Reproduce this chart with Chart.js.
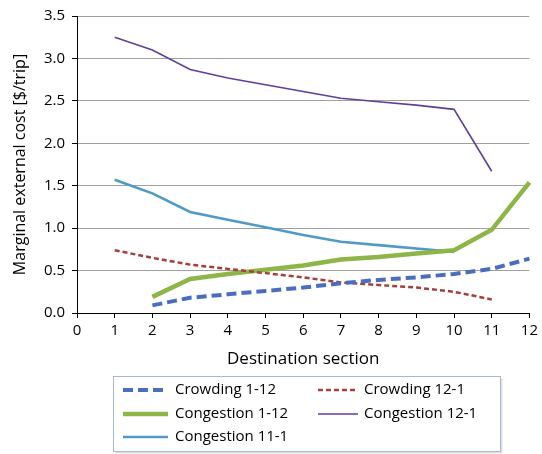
<!DOCTYPE html>
<html>
<head>
<meta charset="utf-8">
<script src="https://cdn.jsdelivr.net/npm/chart.js@4"></script>
<style>
  html, body { margin: 0; padding: 0; background: #fff; }
  #wrap { width: 542px; height: 454px; }
</style>
</head>
<body>
<div id="wrap"><canvas id="costChart" width="542" height="454"></canvas></div>
<script>
// destination sections (0..12 on the axis)
const sections = ['0', '1', '2', '3', '4', '5', '6', '7', '8', '9', '10', '11', '12'];

const crowding112 = [null, null, 0.09, 0.18, 0.22, 0.26, 0.30, 0.35, 0.39, 0.42, 0.46, 0.52, 0.64];
const crowding121 = [null, 0.74, 0.65, 0.57, 0.52, 0.47, 0.42, 0.36, 0.33, 0.30, 0.25, 0.16, null];
const congestion112 = [null, null, 0.19, 0.40, 0.46, 0.51, 0.56, 0.63, 0.66, 0.70, 0.74, 0.98, 1.54];
const congestion121 = [null, 3.25, 3.10, 2.87, 2.77, 2.69, 2.61, 2.53, 2.49, 2.45, 2.40, 1.67, null];
const congestion111 = [null, 1.57, 1.41, 1.19, 1.10, 1.01, 0.92, 0.84, 0.80, 0.76, 0.72, null, null];

const FONT = '"Open Sans", sans-serif';

// legend drawn inside a bordered box below the axis
const boxLegend = {
    id: 'boxLegend',
    afterDraw(chart) {
        const ctx = chart.ctx;
        const bx = 113.5, by = 376.5, bw = 387, bh = 75;
        ctx.save();
        ctx.fillStyle = 'rgba(0,0,0,0.12)';
        ctx.fillRect(bx + 2, by + 2, bw, bh);
        ctx.fillStyle = '#fff';
        ctx.fillRect(bx, by, bw, bh);
        ctx.strokeStyle = '#A9B6DA';
        ctx.lineWidth = 1;
        ctx.strokeRect(bx, by, bw, bh);

        const cols = [{ x0: 123, x1: 168, tx: 175 }, { x0: 318, x1: 358, tx: 364 }];
        const rows = [390, 414, 437];
        ctx.font = '15px ' + FONT;
        ctx.textBaseline = 'middle';
        chart.data.datasets.forEach((ds, i) => {
            const c = cols[i % 2];
            const y = rows[Math.floor(i / 2)];
            ctx.beginPath();
            ctx.strokeStyle = ds.borderColor;
            ctx.lineWidth = ds.borderWidth;
            ctx.setLineDash(ds.borderDash || []);
            ctx.moveTo(c.x0, y);
            ctx.lineTo(c.x1, y);
            ctx.stroke();
            ctx.setLineDash([]);
            ctx.fillStyle = '#000';
            ctx.fillText(ds.label, c.tx, y);
        });
        ctx.restore();
    }
};

const ctx = document.getElementById('costChart').getContext('2d');
new Chart(ctx, {
    type: 'line',
    data: {
        labels: sections,
        datasets: [
            { label: 'Crowding 1-12', data: crowding112, borderColor: '#4A6EBD', borderWidth: 4, borderDash: [10, 5] },
            { label: 'Crowding 12-1', data: crowding121, borderColor: '#A33F3C', borderWidth: 2.5, borderDash: [5, 3] },
            { label: 'Congestion 1-12', data: congestion112, borderColor: '#8DB548', borderWidth: 4.5 },
            { label: 'Congestion 12-1', data: congestion121, borderColor: '#5E409A', borderWidth: 1.6 },
            { label: 'Congestion 11-1', data: congestion111, borderColor: '#4F9AC6', borderWidth: 2.6 }
        ]
    },
    options: {
        responsive: false,
        animation: false,
        layout: { padding: { top: 16, right: 9, bottom: 80, left: 0 } },
        elements: { point: { radius: 0 }, line: { tension: 0, fill: false } },
        plugins: { legend: { display: false }, tooltip: { enabled: false } },
        scales: {
            x: {
                offset: false,
                afterFit: (s) => { s.height = 61; },
                grid: { drawOnChartArea: false, drawTicks: true, tickLength: 5, tickColor: '#000' },
                border: { color: '#000', width: 1 },
                ticks: { color: '#000', font: { family: FONT, size: 15 }, padding: 4, maxRotation: 0, autoSkip: false },
                title: { display: true, text: 'Destination section', color: '#000', font: { family: FONT, size: 17 }, padding: { top: 0, bottom: 5 } }
            },
            y: {
                min: 0,
                max: 3.5,
                afterFit: (s) => { s.width = 77; },
                grid: { color: '#A0A0A0', lineWidth: 1, drawTicks: true, tickLength: 5, tickColor: '#000' },
                border: { color: '#000', width: 1 },
                ticks: { stepSize: 0.5, color: '#000', font: { family: FONT, size: 15 }, padding: 7, callback: (v) => v.toFixed(1) },
                title: { display: true, text: 'Marginal external cost [$/trip]', color: '#000', font: { family: FONT, size: 16 }, padding: { top: 11, bottom: 0 } }
            }
        }
    },
    plugins: [boxLegend]
});
</script>
</body>
</html>
